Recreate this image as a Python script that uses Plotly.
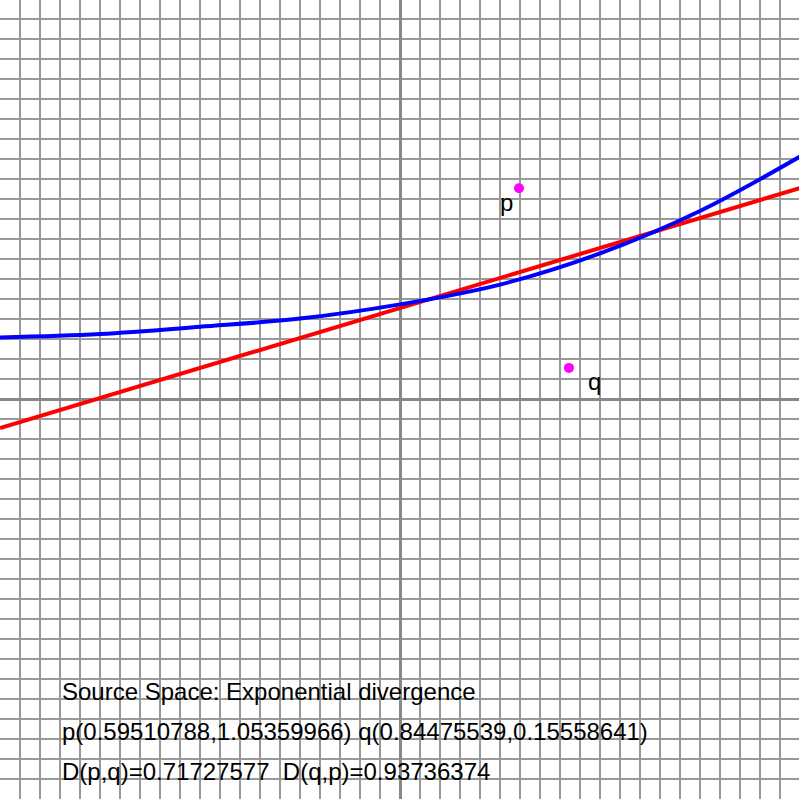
import plotly.graph_objects as go

# curve (source space)
curve_x = [-2.0, -1.5, -1.0, -0.5, 0.0, 0.5, 1.0, 1.5, 2.0]
curve_y = [0.308, 0.325, 0.361, 0.402, 0.473, 0.572, 0.728, 0.94, 1.212]

# straight red line, end points
line_x = [-2.0, 2.0]
line_y = [-0.145, 1.055]

# the two points
pt_names = ["p", "q"]
pt_x = [0.59510788, 0.84475539]
pt_y = [1.05359966, 0.15558641]

text_lines = [
    "Source Space: Exponential divergence",
    "p(0.59510788,1.05359966) q(0.84475539,0.15558641)",
    "D(p,q)=0.71727577  D(q,p)=0.93736374",
]

fig = go.Figure()
fig.add_trace(go.Scatter(x=line_x, y=line_y, mode="lines",
                         line=dict(color="#ff0000", width=4)))
fig.add_trace(go.Scatter(x=curve_x, y=curve_y, mode="lines",
                         line=dict(color="#0000ff", width=4, shape="spline")))
fig.add_trace(go.Scatter(x=pt_x, y=pt_y, mode="markers",
                         marker=dict(color="#ff00ff", size=10)))

font = dict(family="Liberation Sans, Arial, Helvetica", size=24, color="black")

# point labels
fig.add_annotation(x=pt_x[0], y=pt_y[0], text=pt_names[0], showarrow=False,
                   xshift=-13, yshift=-14, font=font)
fig.add_annotation(x=pt_x[1], y=pt_y[1], text=pt_names[1], showarrow=False,
                   xshift=26, yshift=-14, font=font)

for i, t in enumerate(text_lines):
    fig.add_annotation(x=60 / 799, y=1 - (691 + 40 * i) / 799, xref="paper", yref="paper",
                       xanchor="left", yanchor="middle", text=t, showarrow=False,
                       font=font)

axis = dict(showticklabels=False, ticks="", dtick=0.1, tick0=0,
            showgrid=True, gridcolor="#999999", gridwidth=2,
            zeroline=True, zerolinecolor="#888888", zerolinewidth=3,
            showline=False, fixedrange=True)

fig.update_layout(
    width=799, height=799,
    margin=dict(l=0, r=0, t=0, b=0),
    paper_bgcolor="white", plot_bgcolor="white",
    showlegend=False,
    xaxis=dict(range=[-2.0, 1.995], **axis),
    yaxis=dict(range=[-2.0, 1.995], **axis),
)

# drop the browser's default body margin so the plot sits at the window corner
fig.write_html("out.html", config={"displayModeBar": False},
               post_script="document.body.style.margin='0';")
